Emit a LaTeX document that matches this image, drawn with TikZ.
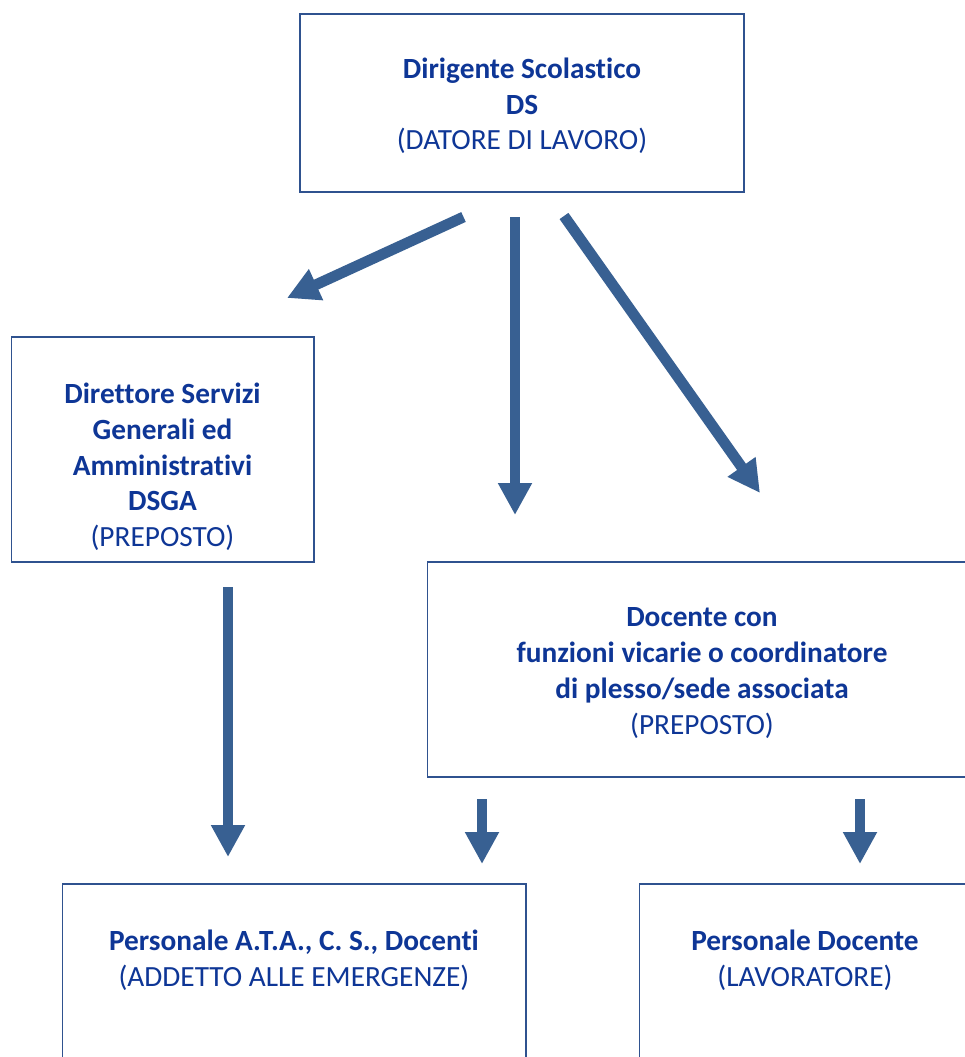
\documentclass[tikz,border=0pt]{standalone}
\usepackage{fontspec}
\setmainfont{Carlito}[Ligatures=NoCommon]
\usetikzlibrary{arrows.meta}
\definecolor{txtblue}{RGB}{14,54,150}
\definecolor{boxblue}{RGB}{47,82,143}
\definecolor{arrblue}{RGB}{56,96,146}
\tikzset{
  box/.style={draw=boxblue, line width=1.3pt},
  lbl/.style={text=txtblue, align=center, inner sep=0pt,
    font=\fontsize{29.3}{35.7}\selectfont},
  bigarrow/.style={draw=arrblue, line width=10.8pt,
    -{Triangle[length=32pt,width=32pt]}},
}
\begin{document}
\begin{tikzpicture}[x=1pt,y=-1pt]
\useasboundingbox (0,0) rectangle (965,1057);
\fill[white] (0,0) rectangle (965,1057);
\clip (0,0) rectangle (965,1057);
% boxes
\draw[box] (300,14) rectangle (744,192);
\draw[box] (11.5,337) rectangle (314,562);
\draw[box] (427.5,562) rectangle (990,777);
\draw[box] (62.5,884) rectangle (526,1100);
\draw[box] (639.5,884) rectangle (990,1100);
% texts
\node[lbl] (ds) at (522,106) {\textbf{Dirigente Scolastico}\\\textbf{DS}\\(DATORE DI LAVORO)};
\node[lbl] (dsga) at (162.5,467) {\textbf{Direttore Servizi}\\\textbf{Generali ed}\\\textbf{Amministrativi}\\\textbf{DSGA}\\(PREPOSTO)};
\node[lbl] (vic) at (702,673) {\textbf{Docente con}\\\textbf{funzioni vicarie o coordinatore}\\\textbf{di plesso/sede associata}\\(PREPOSTO)};
\node[lbl] (ata) at (294,960) {\textbf{Personale A.T.A., C. S., Docenti}\\(ADDETTO ALLE EMERGENZE)};
\node[lbl] (doc) at (805,960) {\textbf{Personale Docente}\\(LAVORATORE)};
% arrow endpoints
\coordinate (a1s) at (463.5,217);
\coordinate (a1e) at (287,298);
\coordinate (a2s) at (515,217);
\coordinate (a2e) at (515,515);
\coordinate (a3s) at (564,216);
\coordinate (a3e) at (760,493);
\coordinate (a4s) at (228,587);
\coordinate (a4e) at (228,857);
\coordinate (a5s) at (482,799);
\coordinate (a5e) at (482,864);
\coordinate (a6s) at (860,799);
\coordinate (a6e) at (860,864);
\foreach \a in {1,...,6}{
  \draw[bigarrow] (a\a s) -- (a\a e);
}
\end{tikzpicture}
\end{document}
